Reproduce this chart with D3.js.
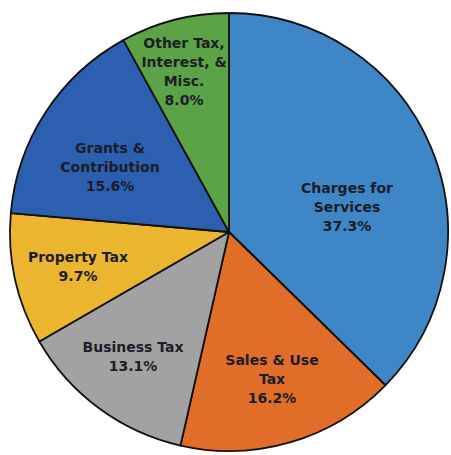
<!DOCTYPE html>
<html>
<head>
<meta charset="utf-8">
<script src="https://cdn.jsdelivr.net/npm/d3@7"></script>
<style>
  html, body { margin: 0; padding: 0; background: #ffffff; }
  svg { display: block; }
</style>
</head>
<body>
<div id="chart"></div>
<script>
// Revenue sources, clockwise from 12 o'clock
const categories = [
  "Charges for Services",
  "Sales & Use Tax",
  "Business Tax",
  "Property Tax",
  "Grants & Contribution",
  "Other Tax, Interest, & Misc."
];
const shares = [37.3, 16.2, 13.1, 9.7, 15.6, 8.0];
const labelLines = [
  ["Charges for", "Services", "37.3%"],
  ["Sales & Use", "Tax", "16.2%"],
  ["Business Tax", "13.1%"],
  ["Property Tax", "9.7%"],
  ["Grants &", "Contribution", "15.6%"],
  ["Other Tax,", "Interest, &", "Misc.", "8.0%"]
];
const colors = ["#3f86c6", "#e06e28", "#a2a2a2", "#ecb530", "#2c5faf", "#5ba346"];

// Label anchor offsets from the pie centre (x, y of first line)
const labelOffsets = [
  [118, -44], [43, 128], [-96, 115], [-151, 25], [-119, -84], [-45, -189]
];

const width = 451, height = 455;
const cx = 229, cy = 232, radius = 219;
const lineHeight = 19;

const svg = d3.select("#chart").append("svg")
  .attr("width", width).attr("height", height);

const g = svg.append("g").attr("transform", `translate(${cx},${cy})`);

const pie = d3.pie().sort(null).value(d => d.value);
const arc = d3.arc().innerRadius(0).outerRadius(radius);

const data = categories.map((c, i) => ({ name: c, value: shares[i], color: colors[i], lines: labelLines[i], off: labelOffsets[i] }));
const arcs = pie(data);

g.selectAll("path.slice")
  .data(arcs)
  .join("path")
  .attr("class", "slice")
  .attr("d", arc)
  .attr("fill", d => d.data.color)
  .attr("stroke", "#111111")
  .attr("stroke-width", 1.8)
  .attr("stroke-linejoin", "round");

const labels = g.selectAll("text.lbl")
  .data(arcs)
  .join("text")
  .attr("class", "lbl")
  .attr("text-anchor", "middle")
  .attr("font-family", "'DejaVu Sans', Verdana, sans-serif")
  .attr("font-weight", "bold")
  .attr("font-size", 14)
  .attr("fill", "#1c1c28")
  .attr("transform", d => `translate(${d.data.off[0]},${d.data.off[1]})`);

labels.selectAll("tspan")
  .data(d => d.data.lines)
  .join("tspan")
  .attr("x", 0)
  .attr("y", (t, i) => i * lineHeight + 5)
  .text(t => t);
</script>
</body>
</html>
